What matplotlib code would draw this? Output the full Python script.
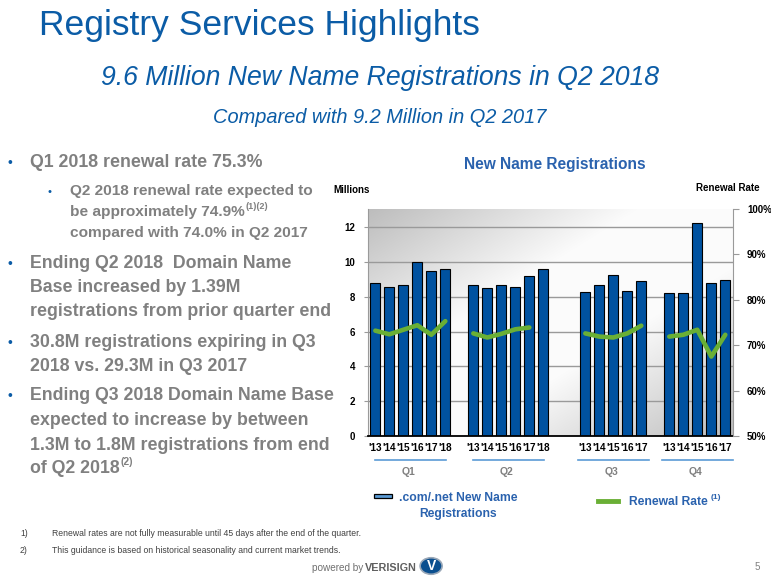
import numpy as np
import matplotlib
matplotlib.use('Agg')
import matplotlib.pyplot as plt
from matplotlib import font_manager
from matplotlib.patches import Rectangle, Circle
from matplotlib.lines import Line2D
import matplotlib.transforms as mtransforms

# ---------------- data ----------------
quarters = ['Q1', 'Q2', 'Q3', 'Q4']
years_q1 = ["'13", "'14", "'15", "'16", "'17", "'18"]
years_q2 = ["'13", "'14", "'15", "'16", "'17", "'18"]
years_q3 = ["'13", "'14", "'15", "'16", "'17"]
years_q4 = ["'13", "'14", "'15", "'16", "'17"]

reg_q1 = [8.8, 8.6, 8.7, 10.0, 9.5, 9.6]
reg_q2 = [8.7, 8.5, 8.7, 8.6, 9.2, 9.6]
reg_q3 = [8.3, 8.7, 9.25, 8.35, 8.9]
reg_q4 = [8.2, 8.2, 12.25, 8.8, 9.0]

renew_q1 = [73.2, 72.4, 73.4, 74.4, 72.3, 75.3]
renew_q2 = [72.6, 71.7, 72.5, 73.5, 73.9]
renew_q3 = [72.6, 71.9, 71.7, 72.6, 74.3]
renew_q4 = [71.9, 72.3, 73.4, 67.5, 72.3]

left_ticks = [0, 2, 4, 6, 8, 10, 12]
right_ticks = [50, 60, 70, 80, 90, 100]

years = [years_q1, years_q2, years_q3, years_q4]
regs = [reg_q1, reg_q2, reg_q3, reg_q4]
renews = [renew_q1, renew_q2, renew_q3, renew_q4]

# ---------------- fonts ----------------
avail = {f.name for f in font_manager.fontManager.ttflist}
SANS = 'Liberation Sans' if 'Liberation Sans' in avail else 'DejaVu Sans'
NARROW = 'Liberation Sans Narrow' if 'Liberation Sans Narrow' in avail else None
plt.rcParams['font.family'] = [SANS, 'DejaVu Sans']

W, H = 771, 579
fig = plt.figure(figsize=(W / 100, H / 100), dpi=100)
fig.patch.set_facecolor('white')

BLUE = '#0b5ca6'
GRAY = '#808080'
LBLUE = '#2a62ae'
GREEN = '#6aaf35'
BAR = '#0052a0'


def fx(x):
    return x / W


def fy(y):
    return 1 - y / H


def T(x, y, s, **kw):
    kw.setdefault('va', 'baseline')
    return fig.text(fx(x), fy(y), s, **kw)


renderer = fig.canvas.get_renderer()


def right_edge(txt):
    return txt.get_window_extent(renderer=renderer).x1


# ---------------- slide header ----------------
T(39, 35, 'Registry Services Highlights', fontsize=25.5, color=BLUE)
T(380, 85, '9.6 Million New Name Registrations in Q2 2018', fontsize=19.2,
  style='italic', color=BLUE, ha='center')
T(380, 123, 'Compared with 9.2 Million in Q2 2017', fontsize=14.4,
  style='italic', color=BLUE, ha='center')

# ---------------- bullet text ----------------
MAIN = 12.8
SUB = 11.1


def sup_after(txt, s, size, dy):
    x_end = right_edge(txt)
    y_base = txt.get_position()[1] * H
    fig.text((x_end + 1) / W, (y_base + dy) / H, s, fontsize=size,
             fontweight='bold', color=GRAY, va='baseline')


T(8, 167, '•', fontsize=10, color=BLUE)
T(30, 167, 'Q1 2018 renewal rate 75.3%', fontsize=MAIN, fontweight='bold', color=GRAY)
T(47, 195, '•', fontsize=8, color=BLUE)
T(70, 195, 'Q2 2018 renewal rate expected to', fontsize=SUB, fontweight='bold', color=GRAY)
t = T(70, 216, 'be approximately 74.9%', fontsize=SUB, fontweight='bold', color=GRAY)
sup_after(t, '(1)(2)', 6.5, 7)
T(70, 237, 'compared with 74.0% in Q2 2017', fontsize=SUB, fontweight='bold', color=GRAY)

T(8, 268, '•', fontsize=10, color=BLUE)
T(30, 268, 'Ending Q2 2018  Domain Name', fontsize=MAIN, fontweight='bold', color=GRAY)
T(30, 292, 'Base increased by 1.39M', fontsize=MAIN, fontweight='bold', color=GRAY)
T(30, 316, 'registrations from prior quarter end', fontsize=MAIN, fontweight='bold', color=GRAY)

T(8, 347, '•', fontsize=10, color=BLUE)
T(30, 347, '30.8M registrations expiring in Q3', fontsize=MAIN, fontweight='bold', color=GRAY)
T(30, 371, '2018 vs. 29.3M in Q3 2017', fontsize=MAIN, fontweight='bold', color=GRAY)

T(8, 400, '•', fontsize=10, color=BLUE)
T(30, 400, 'Ending Q3 2018 Domain Name Base', fontsize=MAIN, fontweight='bold', color=GRAY)
T(30, 425, 'expected to increase by between', fontsize=MAIN, fontweight='bold', color=GRAY)
T(30, 450, '1.3M to 1.8M registrations from end', fontsize=MAIN, fontweight='bold', color=GRAY)
t = T(30, 473, 'of Q2 2018', fontsize=MAIN, fontweight='bold', color=GRAY)
sup_after(t, '(2)', 7.5, 8)

# ---------------- chart ----------------
T(555, 169, 'New Name Registrations', fontsize=11.2, fontweight='bold',
  color=LBLUE, ha='center')
T(333, 193, 'Millions', fontsize=7, fontweight='bold', color='black')
T(760, 191, 'Renewal Rate', fontsize=7, fontweight='bold', color='black', ha='right')

ax = fig.add_axes([fx(368), fy(436), (733 - 368) / W, (436 - 209) / H])

# group positions (gap slots before each group)
gaps = [0, 1, 2, 1]
xs = []
pos = 0
for g, vals in zip(gaps, regs):
    pos += g
    xs.append(np.arange(pos, pos + len(vals)))
    pos += len(vals)

# background gradient (diagonal: grey corners, light middle)
gx, gy = np.meshgrid(np.linspace(0, 1, 200), np.linspace(1, 0, 200))
u = (gx + (1 - gy)) / 2
wgt = 1 - np.abs(2 * u - 1)
wgt = np.clip(wgt * 1.35, 0, 1)
lo, hi = 0.74, 0.985
img = lo + (hi - lo) * wgt
rgb = np.dstack([img, img, img])
ax.imshow(rgb, extent=[0, 1, 0, 1], transform=ax.transAxes, aspect='auto',
          zorder=0, interpolation='bilinear')

for x, vals in zip(xs, regs):
    ax.bar(x, vals, width=0.72, color=BAR, edgecolor='black', linewidth=0.8, zorder=2)

ax.set_xlim(-0.524, 25.55)
ax.set_ylim(0, 13.06)
ax.set_yticks(left_ticks)
ax.set_yticklabels([str(v) for v in left_ticks], fontsize=7, fontweight='bold')
ax.yaxis.grid(True, color='#9a9a9a', linewidth=1, zorder=1)
ax.set_axisbelow(True)
ax.tick_params(axis='y', direction='out', length=3, color='#9a9a9a', pad=6)

all_x = np.concatenate(xs)
all_years = sum(years, [])
ax.set_xticks(all_x)
ax.set_xticklabels(all_years, fontsize=7.2, fontweight='bold')
ax.tick_params(axis='x', length=0, pad=5)

for s in ['top', 'right']:
    ax.spines[s].set_visible(False)
ax.spines['left'].set_color('#9a9a9a')
ax.spines['bottom'].set_color('black')
ax.spines['bottom'].set_linewidth(1.3)

ax2 = ax.twinx()
ax2.set_ylim(50, 100)
ax2.set_yticks(right_ticks)
ax2.set_yticklabels([f'{v}%' for v in right_ticks], fontsize=7, fontweight='bold')
ax2.tick_params(axis='y', direction='out', length=4, color='#9a9a9a', pad=6)
for s in ['top', 'left', 'bottom']:
    ax2.spines[s].set_visible(False)
ax2.spines['right'].set_color('#9a9a9a')

for x, rv in zip(xs, renews):
    ax2.plot(x[:len(rv)], rv, color=GREEN, linewidth=3.3,
             solid_capstyle='round', solid_joinstyle='round', zorder=3)

# group underlines and quarter labels
trans = mtransforms.blended_transform_factory(ax.transData, ax.transAxes)
for x, q in zip(xs, quarters):
    c = x.mean()
    ax.add_line(Line2D([c - 2.55, c + 2.55], [-0.106, -0.106], transform=trans,
                       color='#5b9bd5', linewidth=1.2, clip_on=False))
    ax.text(c - 0.1, -0.16, q, transform=trans, ha='center', va='center',
            fontsize=7.5, fontweight='bold', color=GRAY, clip_on=False)

# ---------------- legend ----------------
fig.add_artist(Rectangle((fx(374), fy(498)), 18 / W, 4 / H, transform=fig.transFigure,
                         facecolor='#5b9bd5', edgecolor='black', linewidth=0.9))
T(458, 501, '.com/.net New Name', fontsize=8.7, fontweight='bold', color=LBLUE, ha='center')
T(458, 517, 'Registrations', fontsize=8.7, fontweight='bold', color=LBLUE, ha='center')
fig.add_artist(Line2D([fx(598), fx(618)], [fy(501), fy(501)], transform=fig.transFigure,
                      color=GREEN, linewidth=3.5))
t = T(629, 505, 'Renewal Rate', fontsize=8.7, fontweight='bold', color=LBLUE)
fig.text((right_edge(t) + 3) / W, fy(499), '(1)', fontsize=6, fontweight='bold',
         color=LBLUE, va='baseline')

# ---------------- footnotes ----------------
if NARROW:
    fkw = dict(fontsize=7.4, family=NARROW)
else:
    fkw = dict(fontsize=6.2)
T(20, 536, '1)', color='#404040', **fkw)
T(52, 536, 'Renewal rates are not fully measurable until 45 days after the end of the quarter.',
  color='#404040', **fkw)
T(20, 553, '2)', color='#404040', **fkw)
T(52, 553, 'This guidance is based on historical seasonality and current market trends.',
  color='#404040', **fkw)

# ---------------- footer ----------------
nkw = {'family': NARROW} if NARROW else {}
t = T(312, 571, 'powered by', fontsize=7.2, color='#707070', **nkw)
t2 = fig.text((right_edge(t) + 2) / W, fy(571), 'VERISIGN', fontsize=7.8,
              fontweight='bold', color='#606060', va='baseline', **nkw)
cx = right_edge(t2) + 14
fig.add_artist(Circle((cx / W, fy(566)), 11 / W, transform=fig.transFigure,
                      facecolor='#0b4f8f', edgecolor='#9aa8b8', linewidth=1.2))
fig.text(cx / W, fy(566), 'V', fontsize=10, fontweight='bold', color='white',
         ha='center', va='center')
T(760, 570, '5', fontsize=7, color=GRAY, ha='right')

fig.savefig('out.png', dpi=100, facecolor='white')
